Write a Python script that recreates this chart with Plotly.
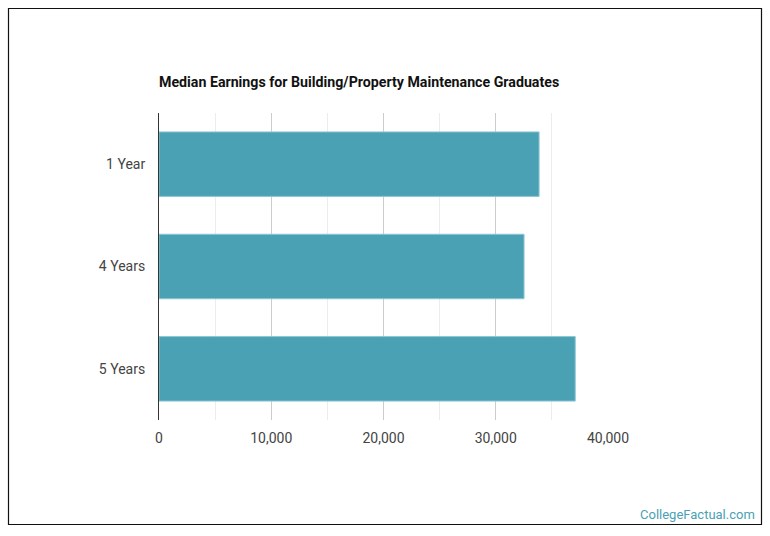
import plotly.graph_objects as go

# values
periods = ["1 Year", "4 Years", "5 Years"]
earnings = [33860, 32520, 37080]
x_ticks = [0, 10000, 20000, 30000, 40000]
x_tick_text = ["0", "10,000", "20,000", "30,000", "40,000"]

bar_color = "#4aa1b3"

fig = go.Figure()
fig.add_trace(go.Bar(x=earnings, y=periods, orientation="h",
                     marker=dict(color=bar_color, line=dict(color="#8cc6d2", width=1)),
                     hoverinfo="x+y"))

# plot area in pixels: left 159, right 608, top 113, bottom 420
L, R, T, B = 159, 608, 113, 420
W, H = 770, 536

def px_x(p):
    return (p - L) / (R - L)

def px_y(p):
    return (B - p) / (B - T)

fig.add_shape(type="rect", xref="paper", yref="paper",
              x0=px_x(8.5), x1=px_x(761.5), y0=px_y(524.5), y1=px_y(8.5),
              line=dict(color="#111111", width=1.2), fillcolor="rgba(0,0,0,0)", layer="below")

fig.add_annotation(text="CollegeFactual.com", xref="paper", yref="paper",
                   x=px_x(757), y=px_y(514), xanchor="right", yanchor="middle",
                   showarrow=False, font=dict(family="Roboto", size=13, color="#4aa1b3"))

fig.update_layout(
    width=W, height=H,
    margin=dict(l=L, r=W - R, t=T, b=H - B),
    paper_bgcolor="white", plot_bgcolor="white",
    font=dict(family="Roboto", size=14, color="#444444"),
    title=dict(text="<b>Median Earnings for Building/Property Maintenance Graduates</b>",
               x=L / W, xanchor="left", y=1 - 82 / H, yanchor="middle",
               font=dict(family="Roboto", size=14.2, color="#111111")),
    bargap=0.37,
    showlegend=False,
)
fig.update_xaxes(range=[0, 40000], tickvals=x_ticks, ticktext=x_tick_text,
                 showgrid=True, gridcolor="#cccccc", gridwidth=1, zeroline=False,
                 minor=dict(dtick=5000, tick0=0, showgrid=True, gridcolor="#ececec"),
                 ticklabelstandoff=8, showline=False)
fig.update_yaxes(autorange="reversed", showline=True, linecolor="#333333", linewidth=1,
                 showgrid=False, ticklabelstandoff=10)

fig.write_html("out.html", config={"displayModeBar": False},
               post_script="document.body.style.margin='0';")
